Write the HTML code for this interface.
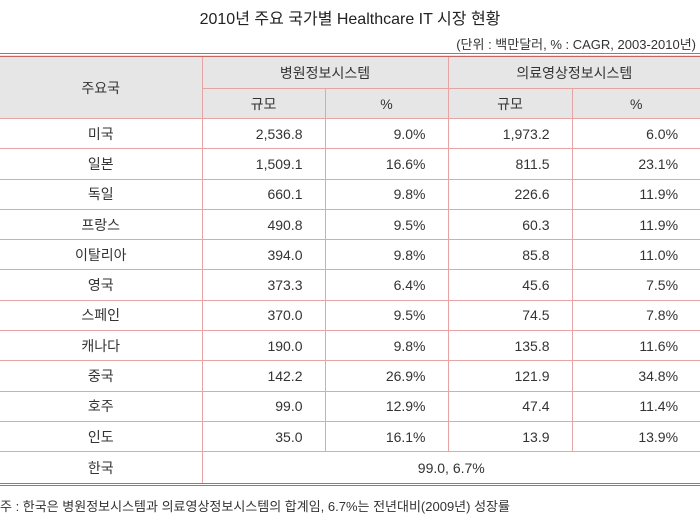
<!DOCTYPE html>
<html><head><meta charset="utf-8"><style>
body{margin:0;width:700px;height:517px;background:#fff;font-family:"Liberation Sans","Noto Sans CJK KR",sans-serif;color:#333;position:relative;overflow:hidden}
.t{position:absolute;left:0;width:700px;top:5px;text-align:center;font-size:16px;color:#222}
.u{position:absolute;right:4px;top:34px;font-size:13px;color:#333}
table{position:absolute;left:0;top:53px;width:700px;border-collapse:collapse;font-size:14px;border-top:4px double #c86464;border-bottom:3px double #c86464;table-layout:fixed}
td{border:1px solid #e6a4a4;height:29.3px;padding:0;text-align:center}
tr td:first-child{border-left:none}
tr td:last-child{border-right:none}
.h td{background:#e6e6e6}
.h1 td{height:31px}
.h2 td{height:29px}
td.r{text-align:right;padding-right:22px}
.k td{height:31px}
.n{position:absolute;left:0;top:496px;font-size:13px;color:#333}
</style></head><body>
<div class="t">2010년 주요 국가별 Healthcare IT 시장 현황</div>
<div class="u">(단위 : 백만달러, % : CAGR, 2003-2010년)</div>
<table>
<colgroup><col style="width:202px"><col style="width:123px"><col style="width:123px"><col style="width:124px"><col style="width:128px"></colgroup>
<tr class="h h1"><td rowspan="2">주요국</td><td colspan="2">병원정보시스템</td><td colspan="2">의료영상정보시스템</td></tr>
<tr class="h h2"><td>규모</td><td>%</td><td>규모</td><td>%</td></tr>
<tr><td>미국</td><td class="r">2,536.8</td><td class="r">9.0%</td><td class="r">1,973.2</td><td class="r">6.0%</td></tr>
<tr><td>일본</td><td class="r">1,509.1</td><td class="r">16.6%</td><td class="r">811.5</td><td class="r">23.1%</td></tr>
<tr><td>독일</td><td class="r">660.1</td><td class="r">9.8%</td><td class="r">226.6</td><td class="r">11.9%</td></tr>
<tr><td>프랑스</td><td class="r">490.8</td><td class="r">9.5%</td><td class="r">60.3</td><td class="r">11.9%</td></tr>
<tr><td>이탈리아</td><td class="r">394.0</td><td class="r">9.8%</td><td class="r">85.8</td><td class="r">11.0%</td></tr>
<tr><td>영국</td><td class="r">373.3</td><td class="r">6.4%</td><td class="r">45.6</td><td class="r">7.5%</td></tr>
<tr><td>스페인</td><td class="r">370.0</td><td class="r">9.5%</td><td class="r">74.5</td><td class="r">7.8%</td></tr>
<tr><td>캐나다</td><td class="r">190.0</td><td class="r">9.8%</td><td class="r">135.8</td><td class="r">11.6%</td></tr>
<tr><td>중국</td><td class="r">142.2</td><td class="r">26.9%</td><td class="r">121.9</td><td class="r">34.8%</td></tr>
<tr><td>호주</td><td class="r">99.0</td><td class="r">12.9%</td><td class="r">47.4</td><td class="r">11.4%</td></tr>
<tr><td>인도</td><td class="r">35.0</td><td class="r">16.1%</td><td class="r">13.9</td><td class="r">13.9%</td></tr>
<tr class="k"><td>한국</td><td colspan="4">99.0, 6.7%</td></tr>
</table>
<div class="n">주 : 한국은 병원정보시스템과 의료영상정보시스템의 합계임, 6.7%는 전년대비(2009년) 성장률</div>
</body></html>
